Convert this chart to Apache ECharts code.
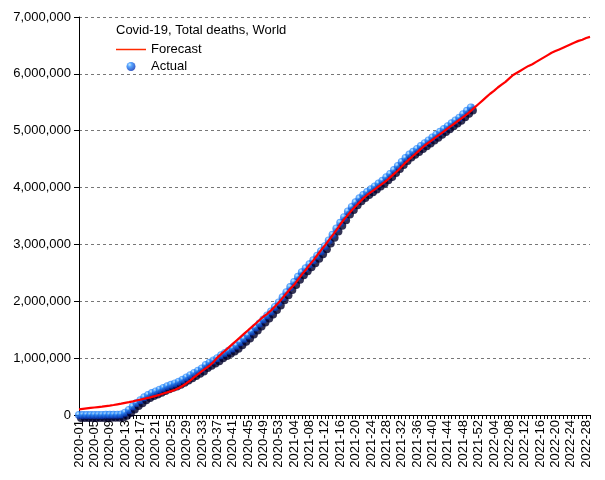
<!DOCTYPE html>
<html><head><meta charset="utf-8">
<script src="https://cdn.jsdelivr.net/npm/echarts@6/dist/echarts.min.js"></script>
<style>html,body{margin:0;padding:0;background:#fff}#c{width:605px;height:480px}</style>
</head><body><div id="c"></div>
<script>
// Week categories: ISO weeks 2020-01 .. 2022-29
const weekYears = [2020, 2021, 2022];
const weeksInYear = [53, 52, 29];
const categories = [];
weekYears.forEach((y, i) => { for (let w = 1; w <= weeksInYear[i]; w++) categories.push(y + '-' + String(w).padStart(2, '0')); });

// Forecast (total deaths), one value per week 2020-01 .. 2022-29
const forecast = [
 100000,108000,116000,124000,132000,140000,148000,157000,166000,176000,
 188000,200000,213000,226000,240000,255000,270000,285000,300000,318000,
 336000,356000,378000,400000,420000,445000,475000,515000,560000,610000,
 665000,720000,770000,820000,870000,930000,1010000,1070000,1130000,1190000,
 1250000,1310000,1370000,1430000,1490000,1550000,1610000,1670000,1730000,1780000,
 1840000,1910000,1980000,2060000,2140000,2220000,2290000,2380000,2470000,2550000,
 2640000,2720000,2810000,2900000,2980000,3070000,3160000,3250000,3350000,3440000,
 3520000,3600000,3670000,3740000,3810000,3870000,3920000,3970000,4020000,4070000,
 4120000,4180000,4240000,4300000,4370000,4440000,4500000,4560000,4620000,4680000,
 4740000,4790000,4840000,4890000,4940000,4990000,5040000,5090000,5140000,5190000,
 5240000,5290000,5350000,5410000,5470000,5530000,5590000,5650000,5700000,5760000,
 5810000,5860000,5920000,5980000,6020000,6060000,6100000,6140000,6170000,6210000,
 6250000,6290000,6330000,6370000,6400000,6430000,6460000,6490000,6520000,6550000,
 6580000,6600000,6630000,6650000
];

// Actual (total deaths), weekly 2020-01 .. 2021-50
const actual = [
 0,0,0,0,0,1000,2000,3000,3000,4000,
 6000,10000,40000,90000,150000,210000,260000,310000,350000,385000,
 415000,445000,475000,505000,530000,555000,585000,620000,660000,700000,
 740000,780000,820000,880000,920000,960000,1000000,1050000,1090000,1130000,
 1170000,1220000,1280000,1340000,1400000,1470000,1540000,1610000,1680000,1750000,
 1820000,1900000,1980000,2070000,2160000,2250000,2340000,2430000,2510000,2580000,
 2650000,2720000,2800000,2880000,2970000,3070000,3170000,3280000,3380000,3480000,
 3580000,3660000,3740000,3810000,3870000,3920000,3970000,4020000,4070000,4120000,
 4180000,4240000,4310000,4380000,4450000,4520000,4580000,4630000,4680000,4730000,
 4780000,4830000,4880000,4930000,4980000,5030000,5080000,5130000,5180000,5230000,
 5290000,5350000,5410000
];

const yMin = 0, yMax = 7000000, yStep = 1000000;

const FONT = 'Liberation Sans, Arial, sans-serif';
const sphere = new echarts.graphic.RadialGradient(0.35, 0.3, 0.7, [
  {offset: 0, color: '#b8e4ff'},
  {offset: 0.35, color: '#2a8cff'},
  {offset: 1, color: '#0634b8'}
]);

const chart = echarts.init(document.getElementById('c'), null, {renderer: 'canvas'});
chart.setOption({
  animation: false,
  backgroundColor: '#fff',
  textStyle: {fontFamily: FONT},
  title: {
    text: 'Covid-19, Total deaths, World',
    left: 111, top: 19,
    textStyle: {fontSize: 13, fontWeight: 'normal', color: '#000', fontFamily: FONT}
  },
  legend: {
    orient: 'vertical', left: 111, top: 38,
    itemWidth: 30, itemHeight: 9, itemGap: 4,
    textStyle: {fontSize: 13, color: '#000', fontFamily: FONT},
    data: [
      {name: 'Forecast', icon: 'path://M0,0L30,0L30,1.5L0,1.5Z',
       itemStyle: {color: '#ff2a00', borderColor: '#ff2a00', borderWidth: 0, opacity: 1},
       lineStyle: {color: '#ff2a00', width: 0}},
      {name: 'Actual', icon: 'circle'}
    ]
  },
  grid: {left: 79, right: 15, top: 17, bottom: 65, containLabel: false},
  xAxis: {
    type: 'category', data: categories, boundaryGap: false,
    axisLine: {lineStyle: {color: '#000', width: 1}},
    axisTick: {interval: 0, length: 4, lineStyle: {color: '#000'}},
    axisLabel: {interval: 3, rotate: 90, fontSize: 13, color: '#000', margin: 5, fontFamily: FONT},
    splitLine: {show: false}
  },
  yAxis: {
    type: 'value', min: yMin, max: yMax, interval: yStep,
    axisLine: {show: true, lineStyle: {color: '#000', width: 1}},
    axisTick: {show: true, length: 5, lineStyle: {color: '#000'}},
    axisLabel: {fontSize: 13, color: '#000', margin: 8, fontFamily: FONT,
      formatter: v => v.toLocaleString('en-US')},
    splitLine: {show: true, lineStyle: {color: '#777', type: [3, 3], width: 1}}
  },
  series: [
    {
      name: 'Forecast', type: 'line', data: forecast, z: 5,
      symbol: 'none', showSymbol: false,
      lineStyle: {color: '#ff0000', width: 2.2},
      itemStyle: {color: '#ff0000'}
    },
    {
      name: 'Actual', type: 'scatter', data: actual, z: 3,
      symbol: 'circle', symbolSize: 8,
      itemStyle: {color: sphere, shadowColor: '#00002a', shadowBlur: 0, shadowOffsetX: 2, shadowOffsetY: 3}
    }
  ]
});
</script></body></html>
